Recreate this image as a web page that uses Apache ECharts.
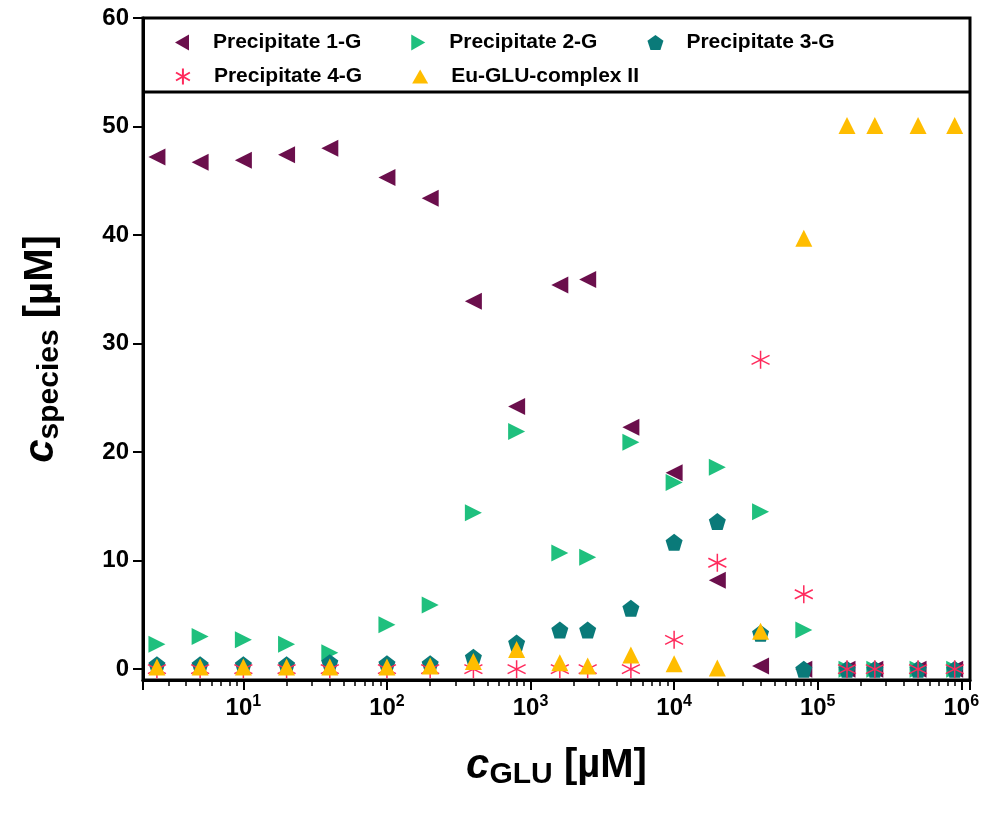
<!DOCTYPE html>
<html><head><meta charset="utf-8">
<script src="https://cdn.jsdelivr.net/npm/echarts@6/dist/echarts.min.js"></script>
<style>html,body{margin:0;padding:0;background:#fff}#c{width:990px;height:820px}</style>
</head><body><div id="c"></div>
<script>
const cGLU = [2.5,5,10,20,40,100,200,400,800,1600,2500,5000,10000,20000,40000,80000,160000,250000,500000,900000];
const precip1 = [47.2,46.7,46.9,47.4,48.0,45.3,43.4,33.9,24.2,35.4,35.9,22.3,18.1,8.2,0.3,0,0,0,0,0];
const precip2 = [2.3,3.0,2.7,2.3,1.5,4.1,5.9,14.4,21.9,10.7,10.3,20.9,17.2,18.6,14.5,3.6,0,0,0,0];
const precip3 = [0.4,0.4,0.4,0.4,0.6,0.5,0.5,1.1,2.4,3.6,3.6,5.6,11.7,13.6,3.3,0,0,0,0,0];
const precip4 = [0,0,0,0,0,0,0,0,0,0,0,0,2.7,9.8,28.5,6.9,0,0,0,0];
const euComplex = [0.2,0.2,0.2,0.2,0.2,0.2,0.3,0.7,1.8,0.6,0.3,1.3,0.5,0.1,3.5,39.7,50.1,50.1,50.1,50.1];
const yTicks = [0,10,20,30,40,50,60];
const names = ['Precipitate 1-G','Precipitate 2-G','Precipitate 3-G','Precipitate 4-G','Eu-GLU-complex II'];

const pts = a => cGLU.map((x,i)=>[x,a[i]]);
const triL = 'path://M-8,0L6,-8L6,8Z';
const triR = 'path://M8,0L-6,-8L-6,8Z';
const triU = 'path://M0,-8L8,6L-8,6Z';
const pent = 'path://M0,-10L9.5,-3.1L5.9,8.1L-5.9,8.1L-9.5,-3.1Z';
const star = 'path://M0,-10L0,10M-8.66,-5L8.66,5M-8.66,5L8.66,-5';
const F = '"Liberation Sans", Arial, sans-serif';
const chart = echarts.init(document.getElementById('c'));
const mk = (name, data, symbol, color, size, extra) => Object.assign({
  name, type:'scatter', data:pts(data), symbol, symbolSize:size,
  itemStyle:{color, opacity:1}, z:3
}, extra||{});
const legTxt = {fontFamily:F,fontWeight:'bold',fontSize:21,color:'#000',padding:[0,0,0,18]};
chart.setOption({
  animation:false,
  grid:{left:143,right:20,top:18,bottom:140,show:true,borderColor:'#000',borderWidth:3},
  legend:[
    {data:[{name:names[0],icon:triL},{name:names[1],icon:triR},{name:names[2],icon:pent}],left:170,top:27,itemGap:50,itemWidth:16,itemHeight:16,textStyle:legTxt},
    {data:[{name:names[3],icon:star},{name:names[4],icon:triU}],left:170,top:61,itemGap:50,itemWidth:16,itemHeight:16,textStyle:legTxt}
  ],
  graphic:[{type:'line',shape:{x1:143,y1:92,x2:970,y2:92},style:{stroke:'#000',lineWidth:3},z:10}],
  xAxis:{type:'log',logBase:10,min:2,max:1.15e6,
    axisLine:{onZero:false,lineStyle:{color:'#000',width:3}},
    axisTick:{show:true,length:10,lineStyle:{color:'#000',width:2}},
    minorTick:{show:true,splitNumber:9,length:6,lineStyle:{color:'#000',width:1.5}},
    splitLine:{show:false},
    axisLabel:{fontFamily:F,fontWeight:'bold',fontSize:24,color:'#000',margin:14,
      formatter:v=>{if(v<5)return '';const e=Math.round(Math.log10(v));return '10{s|'+e+'}';},
      rich:{s:{fontFamily:F,fontWeight:'bold',fontSize:16,color:'#000',verticalAlign:'top',padding:[0,0,12,0]}}},
    name:'{i|c}{sub|GLU} [µM]',nameLocation:'middle',nameGap:62,
    nameTextStyle:{fontFamily:F,fontWeight:'bold',fontSize:40,color:'#000',
      rich:{i:{fontFamily:F,fontWeight:'bold',fontStyle:'italic',fontSize:42,color:'#000'},
            sub:{fontFamily:F,fontWeight:'bold',fontSize:30,color:'#000',padding:[18,0,0,0]}}}
  },
  yAxis:{type:'value',min:-1,max:60,
    axisLine:{show:true,onZero:false,lineStyle:{color:'#000',width:3}},
    axisTick:{show:true,length:10,customValues:yTicks,lineStyle:{color:'#000',width:2}},
    axisLabel:{customValues:yTicks,fontFamily:F,fontWeight:'bold',fontSize:24,color:'#000',margin:14},
    splitLine:{show:false},
    name:'{i|c}{sub|species} [µM]',nameLocation:'middle',nameGap:78,
    nameTextStyle:{fontFamily:F,fontWeight:'bold',fontSize:40,color:'#000',
      rich:{i:{fontFamily:F,fontWeight:'bold',fontStyle:'italic',fontSize:42,color:'#000'},
            sub:{fontFamily:F,fontWeight:'bold',fontSize:30,color:'#000',padding:[18,0,0,0]}}}
  },
  series:[
    mk(names[0],precip1,triL,'#6b0f4c',17),
    mk(names[1],precip2,triR,'#1fc07e',17),
    mk(names[2],precip3,pent,'#0a7a79',17),
    mk(names[3],precip4,star,'#ff2a5c',18,{itemStyle:{color:'#ff2a5c',borderColor:'#ff2a5c',borderWidth:1.5,opacity:1}}),
    mk(names[4],euComplex,triU,'#ffbd00',17)
  ]
});
</script></body></html>
